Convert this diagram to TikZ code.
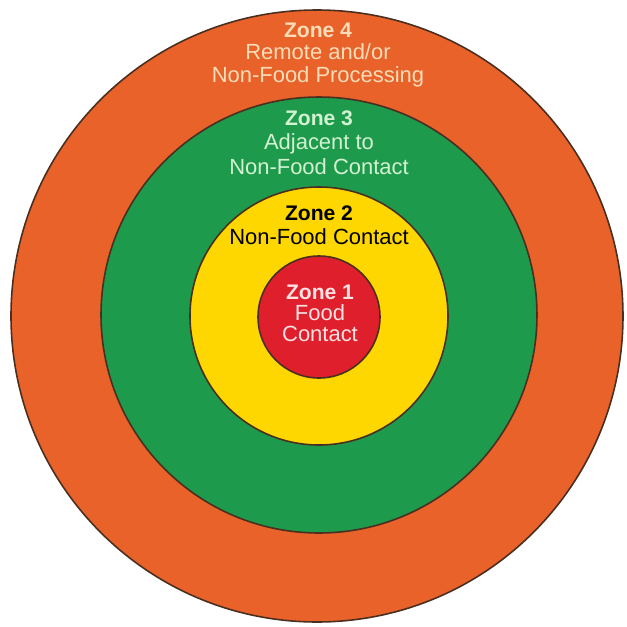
\documentclass[tikz,border=0pt]{standalone}
\usepackage{fontspec}
\setmainfont{Liberation Sans}
\definecolor{zfour}{HTML}{E8622A}
\definecolor{zthree}{HTML}{1D9A4B}
\definecolor{ztwo}{HTML}{FFD700}
\definecolor{zone}{HTML}{E01F2D}
\definecolor{rim}{HTML}{4A2E20}
\definecolor{tfour}{HTML}{FCDDB8}
\definecolor{tthree}{HTML}{D2F2D2}
\definecolor{tone}{HTML}{FCE2E2}
\tikzset{
  ring/.style={draw=rim, line width=0.9pt},
  zlab/.style={font=\bfseries\fontsize{12}{14}\selectfont, inner sep=0pt},
  zsub/.style={font=\fontsize{12.5}{14}\selectfont, inner sep=0pt}
}
\begin{document}
\begin{tikzpicture}[x=0.02cm, y=-0.02cm]
	\useasboundingbox (0,0) rectangle (627,627);
	\filldraw[ring, fill=zfour] (317,316) circle (306);
	\filldraw[ring, fill=zthree] (319,315) circle (218);
	\filldraw[ring, fill=ztwo] (319,316) circle (129);
	\filldraw[ring, fill=zone] (319,317) circle (61);
	% zone 4
	\node[zlab, text=tfour] (z4) at (318,30) {Zone 4};
	\node[zsub, text=tfour] (z4a) at (318,52) {Remote and/or};
	\node[zsub, text=tfour] (z4b) at (318,77) {Non-Food Processing};
	% zone 3
	\node[zlab, text=tthree] (z3) at (319,118) {Zone 3};
	\node[zsub, text=tthree] (z3a) at (319,144) {Adjacent to};
	\node[zsub, text=tthree] (z3b) at (319,167) {Non-Food Contact};
	% zone 2
	\node[zlab, text=black] (z2) at (319,213) {Zone 2};
	\node[zsub, text=black] (z2a) at (319,237) {Non-Food Contact};
	% zone 1
	\node[zlab, text=tone] (z1) at (320,292) {Zone 1};
	\node[zsub, text=tone] (z1a) at (320,313) {Food};
	\node[zsub, text=tone] (z1b) at (320,334) {Contact};
\end{tikzpicture}
\end{document}
